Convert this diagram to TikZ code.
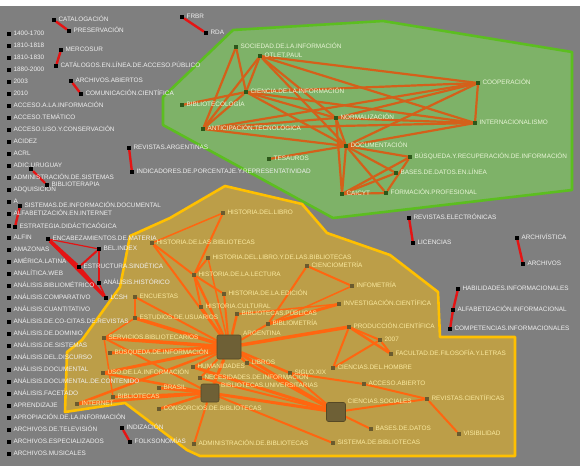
\documentclass[tikz,border=0pt]{standalone}
\usepackage{fontspec}
\newfontfamily\lf{Liberation Sans}
\pgfdeclarelayer{bgl}
\pgfdeclarelayer{edl}
\pgfsetlayers{bgl,edl,main}
\definecolor{bgc}{RGB}{127,127,127}
\definecolor{gfill}{RGB}{126,178,104}
\definecolor{gline}{RGB}{92,190,32}
\definecolor{ofill}{RGB}{188,158,72}
\definecolor{oline}{RGB}{255,192,0}
\definecolor{gedge}{RGB}{212,96,26}
\definecolor{oedge}{RGB}{255,102,16}
\definecolor{redge}{RGB}{228,20,20}
\definecolor{gmark}{RGB}{44,88,26}
\definecolor{omark}{RGB}{106,90,46}
\definecolor{bigc}{RGB}{110,96,54}
\definecolor{labw}{RGB}{240,240,240}
\definecolor{labg}{RGB}{232,245,214}
\definecolor{labo}{RGB}{250,234,160}
\tikzset{
  lbase/.style={font=\lf\fontsize{6.4}{7}\selectfont, inner sep=0pt, yshift=0.8pt},
  lbw/.style={lbase, text=labw},
  lbg/.style={lbase, text=labg},
  lbo/.style={lbase, text=labo},
  mkb/.style={rectangle, fill=black, minimum size=3.6pt, inner sep=0pt},
  mkg/.style={rectangle, fill=gmark, minimum size=3.6pt, inner sep=0pt},
  mko/.style={rectangle, fill=omark, minimum size=3.6pt, inner sep=0pt},
  bigbox/.style={rectangle, rounded corners=2pt, fill=bigc, draw=omark!80!black, line width=0.6pt, inner sep=0pt},
  ge/.style={draw=gedge, line width=2.2pt},
  oe/.style={draw=oedge},
  re/.style={draw=redge, line width=2.4pt},
  gpoly/.style={fill=gfill, draw=gline, line width=2.6pt, line join=round},
  opoly/.style={fill=ofill, draw=oline, line width=2.6pt, line join=round},
}
\newcommand\Nd[5]{\node[#1,label={[#2]east:#5}] (#3) at (#4) {};}
\begin{document}
\begin{tikzpicture}[x=1pt,y=-1pt,label distance=2.4pt]
\useasboundingbox (0,0) rectangle (580,466);
\begin{pgfonlayer}{bgl}
\fill[bgc] (0,0) rectangle (580,466);
\fill[white] (0,0) rectangle (580,6);
\path[gpoly] (163,97) -- (233,30) -- (383,21) -- (572,52) -- (572,190) -- (333,218) -- (163,125) -- cycle;
\path[opoly] (130,236) -- (170,218) -- (225,186) -- (302,204) -- (327,233) -- (390,255) -- (438,292) -- (440,337) -- (515,337) -- (515,456) -- (200,456) -- (187,450) -- (125,403) -- (65,412) -- (67,352) -- (82,340) -- (120,287) -- cycle;
\end{pgfonlayer}

% left column
\foreach \t [count=\i] in {1400-1700,1810-1818,1810-1830,1880-2000,2003,2010,ACCESO.A.LA.INFORMACIÓN,ACCESO.TEMÁTICO,ACCESO.USO.Y.CONSERVACIÓN,ACIDEZ,ACRL,ADIC.URUGUAY,ADMINISTRACIÓN.DE.SISTEMAS,ADQUISICIÓN,A,ALFABETIZACIÓN.EN.INTERNET,{},ALFIN,AMAZONAS,AMÉRICA.LATINA,ANALÍTICA.WEB,ANÁLISIS.BIBLIOMÉTRICO,ANÁLISIS.COMPARATIVO,ANÁLISIS.CUANTITATIVO,ANÁLISIS.DE.CO-CITAS.DE.REVISTAS,ANÁLISIS.DE.DOMINIO,ANÁLISIS.DE.SISTEMAS,ANÁLISIS.DEL.DISCURSO,ANÁLISIS.DOCUMENTAL,ANÁLISIS.DOCUMENTAL.DE.CONTENIDO,ANÁLISIS.FACETADO,APRENDIZAJE,APROPIACIÓN.DE.LA.INFORMACIÓN,ARCHIVOS.DE.TELEVISIÓN,ARCHIVOS.ESPECIALIZADOS,ARCHIVOS.MUSICALES}
  \node[mkb,label={[lbw]east:\t}] (c\i) at (9,{22+12*\i}) {};

% black nodes with red links
\Nd{mkb}{lbw}{cat}{54,20}{CATALOGACIÓN}
\Nd{mkb}{lbw}{pres}{69,31}{PRESERVACIÓN}
\Nd{mkb}{lbw}{merc}{61,50}{MERCOSUR}
\Nd{mkb}{lbw}{catl}{56,66}{CATÁLOGOS.EN.LÍNEA.DE.ACCESO.PÚBLICO}
\Nd{mkb}{lbw}{arab}{71,81}{ARCHIVOS.ABIERTOS}
\Nd{mkb}{lbw}{comc}{81,94}{COMUNICACIÓN.CIENTÍFICA}
\Nd{mkb}{lbw}{frbr}{182,17}{FRBR}
\Nd{mkb}{lbw}{rda}{206,33}{RDA}
\Nd{mkb}{lbw}{reva}{129,148}{REVISTAS.ARGENTINAS}
\Nd{mkb}{lbw}{indi}{132,172}{INDICADORES.DE.PORCENTAJE.Y.REPRESENTATIVIDAD}
\Nd{mkb}{lbw}{reve}{409,218}{REVISTAS.ELECTRÓNICAS}
\Nd{mkb}{lbw}{lic}{413,243}{LICENCIAS}
\Nd{mkb}{lbw}{arq}{517,238}{ARCHIVÍSTICA}
\Nd{mkb}{lbw}{arc}{523,264}{ARCHIVOS}
\Nd{mkb}{lbw}{hab}{458,289}{HABILIDADES.INFORMACIONALES}
\Nd{mkb}{lbw}{alfi}{453,310}{ALFABETIZACIÓN.INFORMACIONAL}
\Nd{mkb}{lbw}{comp}{450,329}{COMPETENCIAS.INFORMACIONALES}
\Nd{mkb}{lbw}{indz}{122,428}{INDIZACIÓN}
\Nd{mkb}{lbw}{folk}{130,442}{FOLKSONOMÍAS}
\node[mkb] (x1) at (31,169) {};
\Nd{mkb}{lbw}{bter}{47,185}{BIBLIOTERAPIA}
\Nd{mkb}{lbw}{sid}{20,206}{SISTEMAS.DE.INFORMACIÓN.DOCUMENTAL}
\Nd{mkb}{lbw}{estr}{15,227}{ESTRATEGIA.DIDÁCTICAÓGICA}
\Nd{mkb}{lbw}{enc}{48,239}{ENCABEZAMIENTOS.DE.MATERIA}
\Nd{mkb}{lbw}{bel}{99,249}{BEL.INDEX}
\Nd{mkb}{lbw}{esin}{79,267}{ESTRUCTURA.SINDÉTICA}
\Nd{mkb}{lbw}{anh}{99,283}{ANÁLISIS.HISTÓRICO}
\Nd{mkb}{lbw}{lcsh}{106,298}{LCSH}

% green cluster
\Nd{mkg}{lbg}{soc}{236,47}{SOCIEDAD.DE.LA.INFORMACIÓN}
\Nd{mkg}{lbg}{otl}{260,56}{OTLET.PAUL}
\Nd{mkg}{lbg}{cie}{246,92}{CIENCIA.DE.LA.INFORMACIÓN}
\Nd{mkg}{lbg}{bibl}{182,105}{BIBLIOTECOLOGÍA}
\Nd{mkg}{lbg}{norm}{336,118}{NORMALIZACIÓN}
\Nd{mkg}{lbg}{anti}{203,129}{ANTICIPACIÓN.TECNOLÓGICA}
\Nd{mkg}{lbg}{doc}{346,146}{DOCUMENTACIÓN}
\Nd{mkg}{lbg}{tes}{269,159}{TESAUROS}
\Nd{mkg}{lbg}{cai}{342,194}{CAICYT}
\Nd{mkg}{lbg}{coop}{478,83}{COOPERACIÓN}
\Nd{mkg}{lbg}{inte}{475,123}{INTERNACIONALISMO}
\Nd{mkg}{lbg}{busq}{410,157}{BÚSQUEDA.Y.RECUPERACIÓN.DE.INFORMACIÓN}
\Nd{mkg}{lbg}{bdl}{396,173}{BASES.DE.DATOS.EN.LÍNEA}
\Nd{mkg}{lbg}{fpro}{386,193}{FORMACIÓN.PROFESIONAL}

% orange cluster
\Nd{mko}{lbo}{hlib}{223,213}{HISTORIA.DEL.LIBRO}
\Nd{mko}{lbo}{hbib}{152,243}{HISTORIA.DE.LAS.BIBLIOTECAS}
\Nd{mko}{lbo}{hlyb}{208,258}{HISTORIA.DEL.LIBRO.Y.DE.LAS.BIBLIOTECAS}
\Nd{mko}{lbo}{hlec}{194,275}{HISTORIA.DE.LA.LECTURA}
\Nd{mko}{lbo}{cien}{307,266}{CIENCIOMETRÍA}
\Nd{mko}{lbo}{info}{352,286}{INFOMETRÍA}
\Nd{mko}{lbo}{hedi}{224,294}{HISTORIA.DE.LA.EDICIÓN}
\Nd{mko}{lbo}{encu}{135,297}{ENCUESTAS}
\Nd{mko}{lbo}{hcul}{201,307}{HISTORIA.CULTURAL}
\Nd{mko}{lbo}{inv}{339,304}{INVESTIGACIÓN.CIENTÍFICA}
\Nd{mko}{lbo}{bpub}{237,314}{BIBLIOTECAS.PÚBLICAS}
\Nd{mko}{lbo}{estu}{135,318}{ESTUDIOS.DE.USUARIOS}
\Nd{mko}{lbo}{bmet}{268,324}{BIBLIOMETRÍA}
\Nd{mko}{lbo}{prod}{349,327}{PRODUCCIÓN.CIENTÍFICA}
\Nd{mko}{lbo}{serv}{104,338}{SERVICIOS.BIBLIOTECARIOS}
\Nd{mko}{lbo}{ysev}{380,340}{2007}
\Nd{mko}{lbo}{busi}{110,353}{BÚSQUEDA.DE.INFORMACIÓN}
\Nd{mko}{lbo}{facu}{391,354}{FACULTAD.DE.FILOSOFÍA.Y.LETRAS}
\Nd{mko}{lbo}{libr}{247,363}{LIBROS}
\Nd{mko}{lbo}{huma}{193,367}{HUMANIDADES}
\Nd{mko}{lbo}{chom}{333,368}{CIENCIAS.DEL.HOMBRE}
\Nd{mko}{lbo}{uso}{103,373}{USO.DE.LA.INFORMACIÓN}
\Nd{mko}{lbo}{sig}{290,373}{SIGLO.XIX}
\Nd{mko}{lbo}{nece}{200,378}{NECESIDADES.DE.INFORMACIÓN}
\Nd{mko}{lbo}{acc}{364,384}{ACCESO.ABIERTO}
\Nd{mko}{lbo}{bras}{159,388}{BRASIL}
\Nd{mko}{lbo}{bibs}{113,397}{BIBLIOTECAS}
\Nd{mko}{lbo}{revc}{427,399}{REVISTAS.CIENTÍFICAS}
\Nd{mko}{lbo}{inter}{77,404}{INTERNET}
\Nd{mko}{lbo}{cons}{159,409}{CONSORCIOS.DE.BIBLIOTECAS}
\Nd{mko}{lbo}{bdat}{371,429}{BASES.DE.DATOS}
\Nd{mko}{lbo}{visi}{459,434}{VISIBILIDAD}
\Nd{mko}{lbo}{adm}{194,444}{ADMINISTRACIÓN.DE.BIBLIOTECAS}
\Nd{mko}{lbo}{sisb}{333,443}{SISTEMA.DE.BIBLIOTECAS}
\node[bigbox,minimum size=24pt,label={[lbo,anchor=west,yshift=-1.5pt]north east:ARGENTINA}] (arg) at (229,347) {};
\node[bigbox,minimum size=18pt,label={[lbo,anchor=west,yshift=-4.5pt]north east:BIBLIOTECAS.UNIVERSITARIAS}] (buni) at (210,393) {};
\node[bigbox,minimum size=19pt,label={[lbo,anchor=west,yshift=-1.5pt]north east:CIENCIAS.SOCIALES}] (csoc) at (336,412) {};

\begin{pgfonlayer}{edl}
\foreach \a/\b in {cat/pres,merc/catl,arab/comc,frbr/rda,reva/indi,reve/lic,arq/arc,hab/alfi,alfi/comp,indz/folk,x1/bter,sid/estr}
  \draw[re] (\a) -- (\b);
\foreach \a/\b/\w in {enc/bel/1.2,enc/esin/3.2,enc/lcsh/3.2,esin/bel/2,bel/anh/2.2,esin/lcsh/2.6,anh/lcsh/1.4}
  \draw[re,line width=\w pt] (\a) -- (\b);
\foreach \a/\b in {otl/cie,otl/anti,otl/coop,otl/inte,otl/norm,otl/doc,soc/cie,soc/anti,cie/coop,cie/inte,cie/norm,cie/doc,cie/bibl,cie/anti,anti/norm,anti/doc,anti/coop,anti/inte,norm/coop,norm/inte,norm/doc,norm/cai,doc/coop,doc/inte,doc/busq,doc/bdl,doc/fpro,doc/cai,doc/tes,cai/busq,cai/bdl,cai/fpro,coop/inte,fpro/busq}
  \draw[ge] (\a) -- (\b);
\foreach \a/\b/\w in {hlib/hbib/1.5,hlib/hlec/2,hbib/hlec/2,hlyb/hlec/2,hlec/hedi/2,hlec/hcul/2,hlec/arg/2.5,hbib/arg/2,hlyb/arg/1.5,hedi/arg/2,hcul/arg/2.5,bpub/arg/2.5,bmet/arg/2,prod/arg/3.5,cien/bmet/2,cien/info/2,info/bmet/1.5,bmet/inv/3,bpub/inv/1.5,encu/arg/2,encu/estu/1.5,estu/arg/3.5,serv/arg/3.5,busi/arg/3,uso/arg/3,huma/arg/2,nece/arg/2,libr/arg/2.5,sig/arg/2.5,arg/buni/3,arg/csoc/3,prod/ysev/2,prod/facu/2.5,prod/chom/2,ysev/facu/2,ysev/chom/2,sig/acc/2,acc/revc/2,csoc/revc/2,revc/visi/2,csoc/bdat/2,buni/csoc/3,buni/sisb/2,buni/adm/2,buni/cons/2.5,buni/bras/2.5,buni/bibs/2.5,buni/inter/2.5,inter/arg/2.5,buni/uso/2.5,buni/serv/2,libr/csoc/2.5,huma/csoc/3,sig/csoc/2,nece/csoc/2,estu/serv/1.5,bibs/serv/1.5}
  \draw[oe,line width=\w pt] (\a) -- (\b);
\end{pgfonlayer}
\end{tikzpicture}
\end{document}
